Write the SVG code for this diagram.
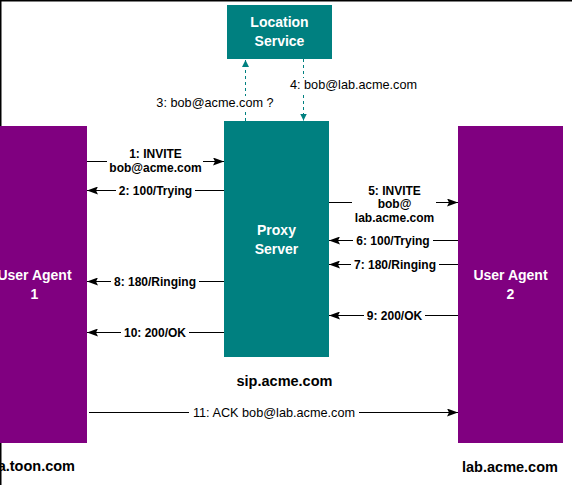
<svg xmlns="http://www.w3.org/2000/svg" width="572" height="485" viewBox="0 0 572 485">
<defs>
<marker id="arr" markerUnits="userSpaceOnUse" markerWidth="11" markerHeight="8" refX="11" refY="4" orient="auto"><path d="M0,0 L11,4 L0,8 L2,4 z" fill="#000"/></marker>
<marker id="tarr" markerUnits="userSpaceOnUse" markerWidth="7" markerHeight="7" refX="7" refY="3.5" orient="auto"><path d="M0,0 L7,3.5 L0,7 z" fill="#008080"/></marker>
<style>
.teal{fill:#008080}
.purple{fill:#800080}
.title{font-family:"Liberation Sans",Arial,sans-serif;font-weight:bold;font-size:14px;fill:#fff;text-anchor:middle}
.dom{font-family:"Liberation Sans",Arial,sans-serif;font-weight:bold;font-size:14.5px;fill:#000;text-anchor:middle}
.lbl{font-family:"Liberation Sans",Arial,sans-serif;font-weight:bold;font-size:12px;fill:#000;text-anchor:middle}
.lbln{font-family:"Liberation Sans",Arial,sans-serif;font-weight:normal;font-size:12.7px;fill:#000;text-anchor:middle}
.ln{stroke:#000;stroke-width:1;fill:none}
.dash{stroke:#008080;stroke-width:1;stroke-dasharray:3 3;fill:none}
</style>
</defs>
<rect x="0" y="0" width="572" height="485" fill="#fff"/>
<path d="M0.75,485 V0.75 H572" stroke="#000" stroke-width="1.5" fill="none"/>

<g id="location-service">
<rect class="teal" x="227" y="5" width="105" height="54"/>
<text class="title" x="279.5" y="27">Location</text>
<text class="title" x="279.5" y="46">Service</text>
</g>

<g id="proxy-server">
<rect class="teal" x="224" y="121" width="105" height="236"/>
<text class="title" x="276.5" y="235">Proxy</text>
<text class="title" x="276.5" y="254">Server</text>
<text class="dom" x="284.5" y="386">sip.acme.com</text>
</g>

<g id="user-agent-1">
<rect class="purple" x="-18" y="126" width="105" height="317"/>
<text class="title" x="34.5" y="280">User Agent</text>
<text class="title" x="34.5" y="299">1</text>
<text class="dom" x="75" y="471" style="text-anchor:end">a.toon.com</text>
</g>

<g id="user-agent-2">
<rect class="purple" x="458" y="126" width="105" height="317"/>
<text class="title" x="510.5" y="280">User Agent</text>
<text class="title" x="510.5" y="299">2</text>
<text class="dom" x="510" y="472">lab.acme.com</text>
</g>

<g id="connectors">
<g id="c3">
<line class="dash" x1="245.5" y1="121" x2="245.5" y2="60" marker-end="url(#tarr)"/>
<rect x="155" y="96" width="120" height="14" fill="#fff"/>
<text class="lbln" x="215" y="107">3: bob@acme.com ?</text>
</g>
<g id="c4">
<line class="dash" x1="303.5" y1="59" x2="303.5" y2="120.5" marker-end="url(#tarr)"/>
<rect x="288" y="78" width="131" height="14" fill="#fff"/>
<text class="lbln" x="353.5" y="89">4: bob@lab.acme.com</text>
</g>
<g id="c1">
<line class="ln" x1="87" y1="161.5" x2="107" y2="161.5"/>
<line class="ln" x1="203" y1="161.5" x2="224" y2="161.5" marker-end="url(#arr)"/>
<text class="lbl" x="155.5" y="158">1: INVITE</text>
<text class="lbl" x="155.5" y="171.5">bob@acme.com</text>
</g>
<g id="c2">
<line class="ln" x1="224" y1="190.5" x2="195" y2="190.5"/>
<line class="ln" x1="116" y1="190.5" x2="87" y2="190.5" marker-end="url(#arr)"/>
<text class="lbl" x="155.5" y="194.5">2: 100/Trying</text>
</g>
<g id="c5">
<line class="ln" x1="329" y1="202.5" x2="352" y2="202.5"/>
<line class="ln" x1="436" y1="202.5" x2="458" y2="202.5" marker-end="url(#arr)"/>
<text class="lbl" x="394.5" y="194.5">5: INVITE</text>
<text class="lbl" x="394.5" y="208">bob@</text>
<text class="lbl" x="394.5" y="221.5">lab.acme.com</text>
</g>
<g id="c6">
<line class="ln" x1="458" y1="240.5" x2="433" y2="240.5"/>
<line class="ln" x1="353" y1="240.5" x2="329" y2="240.5" marker-end="url(#arr)"/>
<text class="lbl" x="393" y="244.5">6: 100/Trying</text>
</g>
<g id="c7">
<line class="ln" x1="458" y1="264.5" x2="439" y2="264.5"/>
<line class="ln" x1="351" y1="264.5" x2="329" y2="264.5" marker-end="url(#arr)"/>
<text class="lbl" x="395" y="268.5">7: 180/Ringing</text>
</g>
<g id="c8">
<line class="ln" x1="224" y1="281.5" x2="199" y2="281.5"/>
<line class="ln" x1="111" y1="281.5" x2="87" y2="281.5" marker-end="url(#arr)"/>
<text class="lbl" x="155" y="285.5">8: 180/Ringing</text>
</g>
<g id="c9">
<line class="ln" x1="458" y1="315.5" x2="425" y2="315.5"/>
<line class="ln" x1="364" y1="315.5" x2="329" y2="315.5" marker-end="url(#arr)"/>
<text class="lbl" x="394.5" y="319.5">9: 200/OK</text>
</g>
<g id="c10">
<line class="ln" x1="224" y1="332.5" x2="189" y2="332.5"/>
<line class="ln" x1="121" y1="332.5" x2="87" y2="332.5" marker-end="url(#arr)"/>
<text class="lbl" x="155" y="336.5">10: 200/OK</text>
</g>
<g id="c11">
<line class="ln" x1="89" y1="412.5" x2="189" y2="412.5"/>
<line class="ln" x1="359" y1="412.5" x2="458" y2="412.5" marker-end="url(#arr)"/>
<text class="lbln" x="274" y="416.5">11: ACK bob@lab.acme.com</text>
</g>
</g>
</svg>
